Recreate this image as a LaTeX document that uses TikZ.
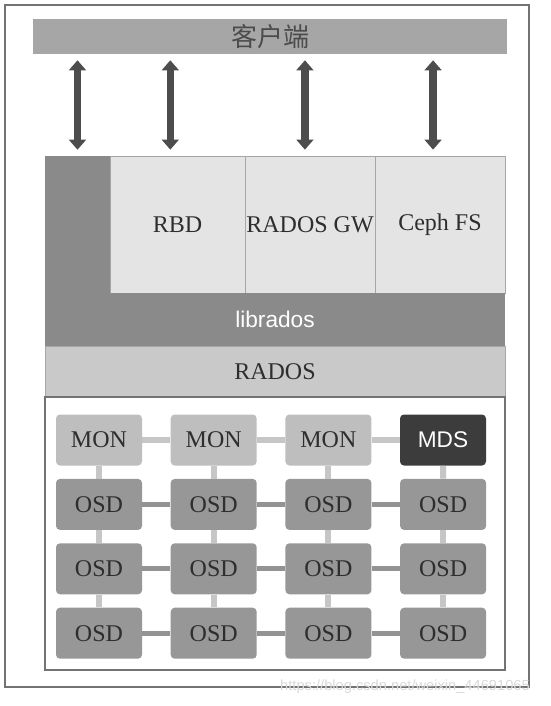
\documentclass[tikz,border=0pt]{standalone}
\usepackage{fontspec}
\setmainfont{Liberation Serif}
\setsansfont{Liberation Sans}
\newfontfamily\cjk{Noto Sans CJK SC}
\usetikzlibrary{arrows.meta,positioning}

\definecolor{bargray}{HTML}{A6A6A6}
\definecolor{libgray}{HTML}{8A8A8A}
\definecolor{appgray}{HTML}{E4E4E4}
\definecolor{radgray}{HTML}{C9C9C9}
\definecolor{mongray}{HTML}{BEBEBE}
\definecolor{osdgray}{HTML}{979797}
\definecolor{mdsgray}{HTML}{3C3C3C}
\definecolor{arrgray}{HTML}{4D4D4D}
\definecolor{txtgray}{HTML}{2E2E2E}

\begin{document}
\begin{tikzpicture}[x=0.75pt, y=-0.75pt, >={Triangle[length=7.5pt, width=12.5pt]},
  font=\fontsize{18}{20}\selectfont, text=txtgray,
  sz/.style 2 args={minimum width=#1*0.75pt, minimum height=#2*0.75pt, inner sep=0pt},
  lay/.style={draw=gray!70, line width=0.5pt},
  arr/.style={<->, line width=5.5pt, draw=arrgray, shorten <=4.5pt, shorten >=4.5pt},
  cell/.style={sz={86}{51}, rounded corners=3pt},
  mon/.style={cell, fill=mongray},
  osd/.style={cell, fill=osdgray},
  mds/.style={cell, fill=mdsgray, text=white, font=\sffamily\fontsize{17}{19}\selectfont},
  vl/.style={line width=4.5pt, draw=gray!45},
  hl/.style={line width=3.5pt, draw=gray!85}]
  \useasboundingbox (0,0) rectangle (550,706);
  \draw[gray!110, line width=0.8pt] (5,5) rectangle (529,687);
  % client and access layer
  \node[sz={474}{35}, fill=bargray, text=black!70, font=\cjk\fontsize{19.5}{21}\selectfont] (cl) at (270,36.5) {客户端};
  \node[sz={65}{137}, fill=libgray] (col) at (77.5,224.5) {};
  \node[lay, sz={135}{137}, fill=appgray] (rbd) at (177.5,224.5) {RBD};
  \node[lay, sz={130}{137}, fill=appgray] (gw) at (310,224.5) {RADOS GW};
  \node[lay, sz={130}{137}, fill=appgray] (fs) at (440,224.5) {Ceph FS};
  \node[sz={460}{53}, fill=libgray, text=white, font=\sffamily\fontsize{17}{19}\selectfont] (lib) at (275,319.5) {librados};
  \node[lay, sz={460}{51}, fill=radgray] (rados) at (275,371.5) {RADOS};
  \node[sz={460}{273}, draw=gray!110, line width=1.1pt, fill=white] (clu) at (275,533.5) {};
  \draw[arr] (cl.south -| col.north) -- (col.north);
  \draw[arr, transform canvas={xshift=-5.4pt}] (cl.south -| rbd.north) -- (rbd.north);
  \draw[arr, transform canvas={xshift=-3.8pt}] (cl.south -| gw.north) -- (gw.north);
  \draw[arr, transform canvas={xshift=-5.2pt}] (cl.south -| fs.north) -- (fs.north);
  % storage cluster
  \foreach \i in {1,2,3}
    \node[mon] (n\i-1) at ({99+114.7*(\i-1)},440) {MON};
  \node[mds] (n4-1) at (443,440) {MDS};
  \foreach \i in {1,...,4} \foreach \j in {2,3,4}
    \node[osd] (n\i-\j) at ({99+114.7*(\i-1)},{440+64.4*(\j-1)}) {OSD};
  \foreach \i in {1,...,4} \foreach \j/\k in {1/2,2/3,3/4}
    \draw[vl] (n\i-\j) -- (n\i-\k);
  \foreach \i/\k in {1/2,2/3,3/4} {
    \draw[vl] (n\i-1) -- (n\k-1);
    \foreach \j in {2,3,4} \draw[hl] (n\i-\j) -- (n\k-\j);
  }
  \node[text=gray!30, font=\sffamily\fontsize{11}{12}\selectfont] (wm) at (405,687) {https://blog.csdn.net/weixin\_44691065};
\end{tikzpicture}
\end{document}
